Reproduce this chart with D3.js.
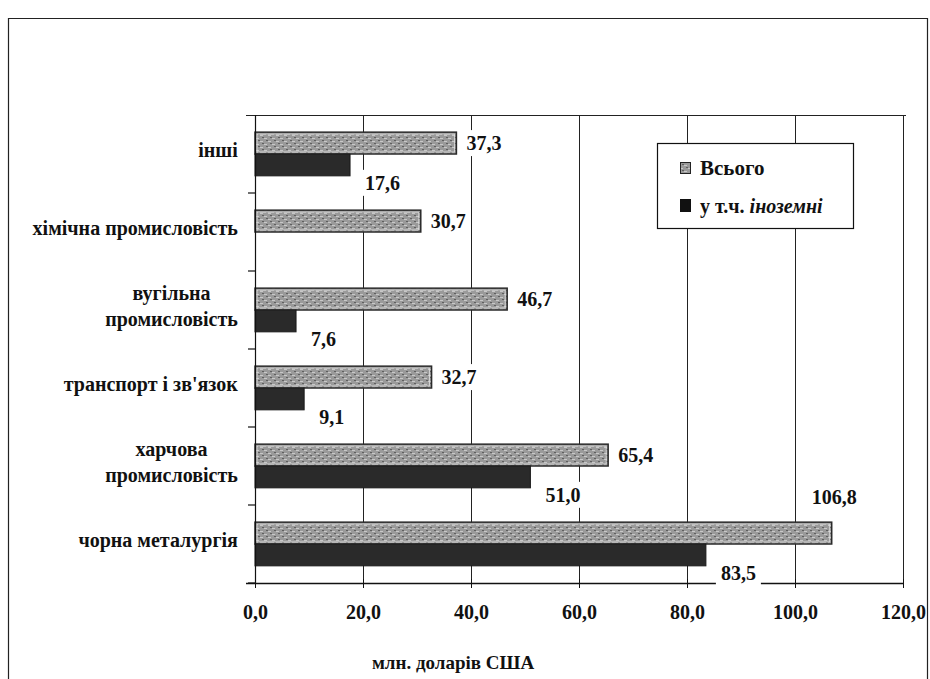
<!DOCTYPE html>
<html><head><meta charset="utf-8">
<script src="https://cdn.jsdelivr.net/npm/d3@7"></script>
</head>
<body style="margin:0;background:#fff">
<svg id="chart" width="930" height="679" style="display:block"></svg>
<script>
// ---- data ----
const categories = ["інші", "хімічна промисловість", "вугільна промисловість", "транспорт і зв'язок", "харчова промисловість", "чорна металургія"];
const categoryLines = [["інші"], ["хімічна промисловість"], ["вугільна", "промисловість"], ["транспорт і зв'язок"], ["харчова", "промисловість"], ["чорна металургія"]];
const seriesNames = ["Всього", "у т.ч. іноземні"];
const totalValues = [37.3, 30.7, 46.7, 32.7, 65.4, 106.8];
const foreignValues = [17.6, null, 7.6, 9.1, 51.0, 83.5];
const xTicks = [0, 20, 40, 60, 80, 100, 120];
const xTitle = "млн. доларів США";

const FONT = "Liberation Serif";
const fmt = v => v.toFixed(1).replace(".", ",");

const svg = d3.select("#chart");
const defs = svg.append("defs");
const pat = defs.append("pattern").attr("id", "tex").attr("patternUnits", "userSpaceOnUse")
  .attr("width", 8).attr("height", 6);
pat.append("rect").attr("width", 8).attr("height", 6).attr("fill", "#9a9a9a");
pat.append("rect").attr("x", 0).attr("y", 0).attr("width", 3).attr("height", 1).attr("fill", "#c8c8c8");
pat.append("rect").attr("x", 4).attr("y", 3).attr("width", 3).attr("height", 1).attr("fill", "#c8c8c8");
pat.append("rect").attr("x", 2).attr("y", 2).attr("width", 2).attr("height", 1).attr("fill", "#5f5f5f");
pat.append("rect").attr("x", 6).attr("y", 5).attr("width", 2).attr("height", 1).attr("fill", "#5f5f5f");

svg.append("path").attr("d", "M8.5,679 V18.5 H927.5 V679").attr("fill", "none").attr("stroke", "#222").attr("stroke-width", 1.2);

const pL = 255, pR = 903, pT = 115, pB = 583;
const x = d3.scaleLinear().domain([0, 120]).range([pL, pR]);
const y = d3.scaleBand().domain(categories).range([pT, pB]).paddingInner(0.44).paddingOuter(0.22);
const sub = d3.scaleBand().domain(["total", "foreign"]).range([0, y.bandwidth()]);

function txt(sel) { return sel.attr("font-family", FONT).attr("font-weight", "bold").attr("fill", "#111"); }

svg.append("line").attr("x1", pL - 9).attr("x2", pR + 3).attr("y1", pT + 0.5).attr("y2", pT + 0.5)
  .attr("stroke", "#222").attr("stroke-width", 1.2);

svg.append("g").selectAll("line").data(xTicks.slice(1)).join("line")
  .attr("x1", d => Math.round(x(d)) + 0.5).attr("x2", d => Math.round(x(d)) + 0.5)
  .attr("y1", pT).attr("y2", pB)
  .attr("stroke", "#222").attr("stroke-width", 1);

const g = svg.append("g");
categories.forEach((c, i) => {
  const y0 = y(c);
  g.append("rect").attr("x", x(0)).attr("y", y0 + sub("total"))
    .attr("width", x(totalValues[i]) - x(0)).attr("height", sub.bandwidth())
    .attr("fill", "url(#tex)").attr("stroke", "#2a2a2a").attr("stroke-width", 1.5);
  g.append("rect").attr("x", x(0) + 2).attr("y", y0 + sub("total") + 2)
    .attr("width", x(totalValues[i]) - x(0) - 4).attr("height", sub.bandwidth() - 4)
    .attr("fill", "none").attr("stroke", "#e0e0e0").attr("stroke-width", 0.8);
  if (foreignValues[i] != null) {
    g.append("rect").attr("x", x(0)).attr("y", y0 + sub("foreign"))
      .attr("width", x(foreignValues[i]) - x(0)).attr("height", sub.bandwidth())
      .attr("fill", "#2a2a2a").attr("stroke", "#1a1a1a").attr("stroke-width", 1);
  }
});

const xAxis = d3.axisBottom(x).tickValues(xTicks).tickSize(6).tickFormat(fmt);
const ax = svg.append("g").attr("transform", `translate(0,${pB})`).call(xAxis);
ax.attr("font-family", FONT).attr("font-size", 20);
ax.select(".domain").attr("stroke", "#111").attr("stroke-width", 1.6).attr("d", `M${pL - 9},0.5H${pR}`);
ax.selectAll(".tick line").attr("stroke", "#111").attr("y1", -4).attr("y2", 5);
txt(ax.selectAll(".tick text").attr("y", 36).attr("dy", 0).attr("font-size", 20));

svg.append("line").attr("x1", pL + 0.5).attr("x2", pL + 0.5).attr("y1", pT).attr("y2", pB).attr("stroke", "#111").attr("stroke-width", 1.2);
const bounds = categories.map(c => y(c) - y.step() * y.paddingInner() / 2 + y.step());
svg.append("g").selectAll("line").data(bounds).join("line")
  .attr("x1", pL - 7).attr("x2", pL).attr("y1", d => d).attr("y2", d => d)
  .attr("stroke", "#111").attr("stroke-width", 1.2);

const labelRight = 238;
categories.forEach((c, i) => {
  const lines = categoryLines[i];
  const cy = y(c) + y.bandwidth() / 2 - 4;
  const lh = 26;
  const t = txt(svg.append("text")).attr("font-size", 20).attr("text-anchor", "middle");
  lines.forEach((ln, k) => {
    t.append("tspan").attr("x", 0).attr("y", cy + (k - (lines.length - 1) / 2) * lh + 7).text(ln);
  });
  const w = t.node().getBBox().width;
  t.attr("transform", `translate(${labelRight - w / 2},0)`);
});

const lbl = svg.append("g");
function addLabel(tx, ty, text) {
  const t = txt(lbl.append("text")).attr("x", tx).attr("y", ty).attr("font-size", 20).text(text);
  const b = t.node().getBBox();
  lbl.insert("rect", "text").attr("x", b.x - 5).attr("y", b.y - 2).attr("width", b.width + 10).attr("height", b.height + 4).attr("fill", "#fff");
}
categories.forEach((c, i) => {
  const v = totalValues[i];
  const yt = y(c) + sub("total");
  if (v > 100) {
    addLabel(x(v) - 20, yt - 18, fmt(v));
  } else {
    addLabel(x(v) + 10, yt + sub.bandwidth() / 2 + 7, fmt(v));
  }
  const f = foreignValues[i];
  if (f != null) {
    const yf = y(c) + sub("foreign") + sub.bandwidth();
    addLabel(x(f) + 15, yf + 14, fmt(f));
  }
});

txt(svg.append("text")).attr("x", 453).attr("y", 669).attr("text-anchor", "middle").attr("font-size", 19).text(xTitle);

const lg = svg.append("g");
lg.append("rect").attr("x", 657.5).attr("y", 143.5).attr("width", 196).attr("height", 85)
  .attr("fill", "#fff").attr("stroke", "#111").attr("stroke-width", 1.2);
lg.append("rect").attr("x", 680.5).attr("y", 162.5).attr("width", 10).attr("height", 11)
  .attr("fill", "url(#tex)").attr("stroke", "#222");
txt(lg.append("text")).attr("x", 700).attr("y", 175).attr("font-size", 21).text(seriesNames[0]);
lg.append("rect").attr("x", 680).attr("y", 199).attr("width", 11).attr("height", 13).attr("fill", "#111");
const t2 = txt(lg.append("text")).attr("x", 700).attr("y", 213).attr("font-size", 20);
t2.append("tspan").text("у т.ч. ");
t2.append("tspan").attr("font-style", "italic").text("іноземні");
</script>
</body></html>
